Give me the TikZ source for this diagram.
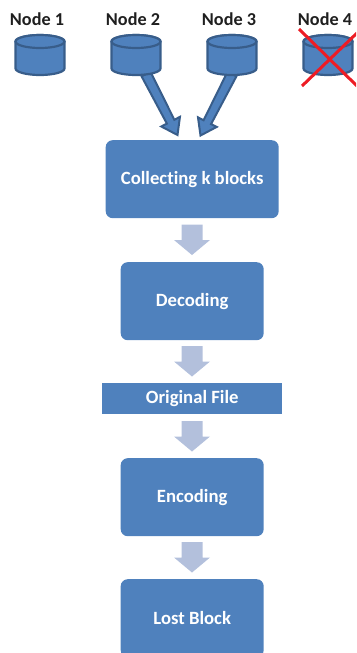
\documentclass[tikz,border=0pt]{standalone}
\usepackage{fontspec}
\setmainfont[Ligatures=CommonOff]{Carlito}
\usetikzlibrary{calc}
\definecolor{boxblue}{HTML}{4F81BD}
\definecolor{edgeblue}{HTML}{385D8A}
\definecolor{paleblue}{HTML}{B3C0DC}
\definecolor{crossred}{HTML}{ED1C24}
\definecolor{inkdark}{HTML}{1F1F1F}
\newcommand{\boxtext}[1]{\raisebox{-1.2pt}{#1}}
\tikzset{
  every node/.style={font=\bfseries\fontsize{18.7pt}{20pt}\selectfont},
  bluebox/.style={fill=boxblue,rounded corners=7pt,text=white,inner sep=0pt,anchor=north west},
  title/.style={text=inkdark,inner sep=0pt,font=\bfseries\fontsize{18.2pt}{20pt}\selectfont},
  diskslot/.style={inner sep=0pt,outer sep=0pt,minimum width=49pt,minimum height=40pt},
  diskline/.style={draw=edgeblue,fill=boxblue,line width=2.2pt},
  cross/.style={draw=crossred,line width=3pt},
  darrow/.style={fill=paleblue},
  sarrow/.style={fill=boxblue,draw=edgeblue,line width=2pt,line join=miter}
}
% cylinder drawn on a named node slot
\newcommand{\disk}[3]{%
  \node[diskslot] (#1) at (#2,#3) {};
  \path[diskline] ($(#1.north west)+(0,-6.5pt)$) -- ($(#1.south west)+(0,6.5pt)$)
     arc[start angle=180,end angle=360,x radius=24.5pt,y radius=6.5pt]
     -- ($(#1.north east)+(0,-6.5pt)$)
     arc[start angle=0,end angle=180,x radius=24.5pt,y radius=6.5pt] -- cycle;
  \path[diskline] ($(#1.north west)+(0,-6.5pt)$)
     arc[start angle=180,end angle=-180,x radius=24.5pt,y radius=6.5pt] -- cycle;}
% wide block arrow going down, starting at a named point
\newcommand{\downblock}[1]{%
  \fill[darrow] ($(#1)+(-10.5pt,0)$) -- ($(#1)+(10.5pt,0)$) -- ($(#1)+(10.5pt,-15.5pt)$) -- ($(#1)+(18pt,-15.5pt)$)
    -- ($(#1)+(0,-30.5pt)$) -- ($(#1)+(-18pt,-15.5pt)$) -- ($(#1)+(-10.5pt,-15.5pt)$) -- cycle;}
% slim block arrow between two named points
\newcommand{\slimblock}[2]{%
  \draw[sarrow] ($(#1)!5pt!90:(#2)$) -- ($(#2)!15pt!0:(#1)!4.2pt!-90:(#1)$)
   -- ($(#2)!15pt!0:(#1)!10.5pt!-90:(#1)$) -- (#2)
   -- ($(#2)!15pt!0:(#1)!10.5pt!90:(#1)$) -- ($(#2)!15pt!0:(#1)!4.2pt!90:(#1)$)
   -- ($(#1)!5pt!-90:(#2)$) -- cycle;}
\begin{document}
\begin{tikzpicture}[x=1pt,y=-1pt]
\useasboundingbox (0,0) rectangle (356,653);
\clip (0,0) rectangle (356,653);
\node[title] (t1) at (37,19) {Node 1};
\node[title] (t2) at (133,19) {Node 2};
\node[title] (t3) at (229,19) {Node 3};
\node[title] (t4) at (325,19) {Node 4};
\coordinate (from2) at (146,74);
\coordinate (from3) at (232,74);
\coordinate (tip2) at (177.5,135);
\coordinate (tip3) at (200.5,135.5);
\slimblock{from2}{tip2}
\slimblock{from3}{tip3}
\disk{d1}{40}{55}
\disk{d2}{136}{55}
\disk{d3}{232}{55}
\disk{d4}{328}{55}
\coordinate (xa) at (299,29);
\coordinate (xb) at (357,86);
\coordinate (xc) at (302,86);
\coordinate (xd) at (357,33);
\draw[cross] (xa) -- (xb);
\draw[cross] (xc) -- (xd);
\node[bluebox,minimum width=173pt,minimum height=78pt] (collect) at (105.5,140) {\boxtext{Collecting k blocks}};
\node[bluebox,minimum width=143pt,minimum height=78pt] (decode) at (120.5,262) {\boxtext{Decoding}};
\node[bluebox,rounded corners=0pt,minimum width=180pt,minimum height=31pt] (orig) at (102,383) {\boxtext{Original File}};
\node[bluebox,minimum width=143pt,minimum height=78pt] (encode) at (120.5,458) {\boxtext{Encoding}};
\node[bluebox,minimum width=143pt,minimum height=78pt] (lost) at (120.5,579) {\boxtext{Lost Block}};
\coordinate (a1) at (192,224.5);
\coordinate (a2) at (192,346);
\coordinate (a3) at (192,421);
\coordinate (a4) at (192,542);
\foreach \a in {a1,a2,a3,a4}{\downblock{\a}}
\end{tikzpicture}
\end{document}
